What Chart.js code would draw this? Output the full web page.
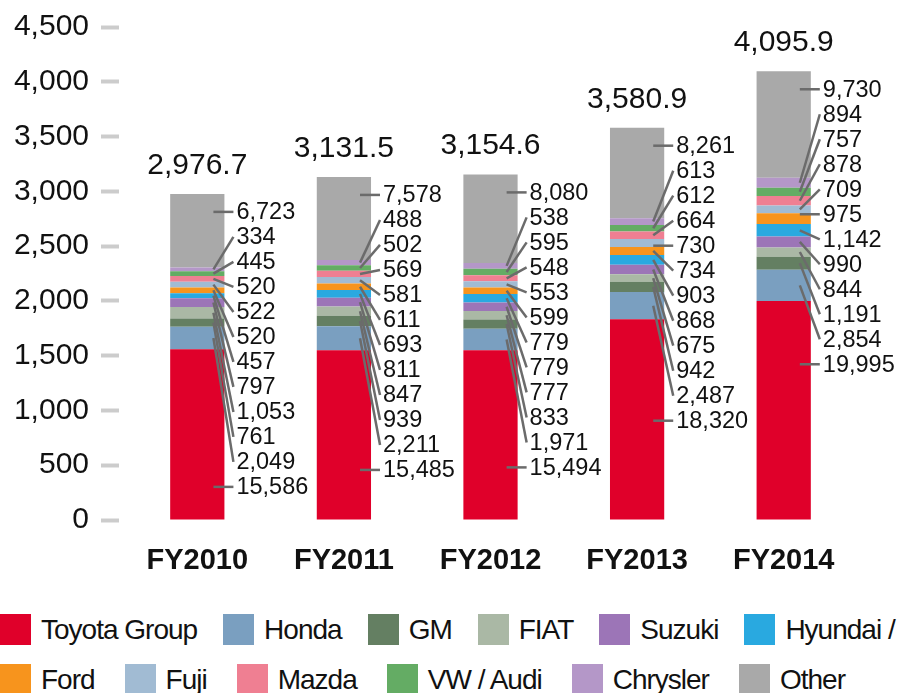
<!DOCTYPE html>
<html lang="en">
<head>
  <meta charset="UTF-8">
  <title>Stacked bars FY2010-FY2014</title>
  <script src="https://cdn.jsdelivr.net/npm/chart.js"></script>
  <style>
    body { margin: 0; width: 898px; height: 693px; overflow: hidden; background: #fff; position: relative;
           font-family: "Liberation Sans", Arial, sans-serif; color: #111; }
    #wrap { position: absolute; left: 0; top: 0; width: 898px; height: 600px; }
    .row { position: absolute; left: 0; display: flex; align-items: center; white-space: nowrap; }
    .item { display: flex; align-items: center; font-size: 28px; letter-spacing: -1px; line-height: 31px; }
    .box { width: 31px; height: 31px; margin-right: 10px; flex: none; }
  </style>
</head>
<body>
  <div id="wrap"><canvas id="chart" width="898" height="600"></canvas></div>
  <div id="row1" class="row" style="top:614px; gap:26px"></div>
  <div id="row2" class="row" style="top:664px; gap:30px"></div>

  <script>
    // categories
    const years = ['FY2010', 'FY2011', 'FY2012', 'FY2013', 'FY2014'];

    // values per maker (bottom of stack first)
    const toyota   = [15586, 15485, 15494, 18320, 19995];
    const honda    = [2049, 2211, 1971, 2487, 2854];
    const gm       = [761, 939, 833, 942, 1191];
    const fiat     = [1053, 847, 777, 675, 844];
    const suzuki   = [797, 811, 779, 868, 990];
    const hyundai  = [457, 693, 779, 903, 1142];
    const ford     = [520, 611, 599, 734, 975];
    const fuji     = [522, 581, 553, 730, 709];
    const mazda    = [520, 569, 548, 664, 878];
    const vwAudi   = [445, 502, 595, 612, 757];
    const chrysler = [334, 488, 538, 613, 894];
    const other    = [6723, 7578, 8080, 8261, 9730];

    const makers = ['Toyota Group', 'Honda', 'GM', 'FIAT', 'Suzuki', 'Hyundai /',
                    'Ford', 'Fuji', 'Mazda', 'VW / Audi', 'Chrysler', 'Other'];
    const series = [toyota, honda, gm, fiat, suzuki, hyundai, ford, fuji, mazda, vwAudi, chrysler, other];
    const colors = ['#e0002a', '#7a9fc0', '#647f62', '#aab8a5', '#9c75b7', '#29a9e0',
                    '#f7941d', '#a1bbd3', '#ef7f92', '#64ac64', '#b497c8', '#a9a9a9'];

    // axis ticks
    const yMax = 4500;
    const yStep = 500;

    // bar height is the label value divided by 10
    const unit = 10;
    const totals = years.map((_, i) => series.reduce((s, arr) => s + arr[i], 0) / unit);

    const fmt = v => v.toLocaleString('en-US');
    const fmtTotal = v => v.toLocaleString('en-US', { minimumFractionDigits: 1, maximumFractionDigits: 1 });

    const FONT = '"Liberation Sans", Arial, sans-serif';

    // value labels with leader lines + totals on top
    const segLabels = {
      id: 'segLabels',
      afterDatasetsDraw(chart) {
        const ctx = chart.ctx;
        const n = chart.data.datasets.length;
        ctx.save();
        years.forEach((year, i) => {
          const bars = chart.data.datasets.map((ds, d) => chart.getDatasetMeta(d).data[i]);
          const top = bars[n - 1].y;
          const cx = bars[0].x;
          const right = cx + bars[0].width / 2;

          ctx.fillStyle = '#111';
          ctx.font = '30px ' + FONT;
          ctx.textAlign = 'center';
          ctx.textBaseline = 'alphabetic';
          ctx.fillText(fmtTotal(totals[i]), cx, top - 20);

          ctx.font = '23.5px ' + FONT;
          ctx.textAlign = 'left';
          ctx.textBaseline = 'middle';
          for (let d = n - 1; d >= 0; d--) {
            const k = n - 1 - d;
            const bar = bars[d];
            const ly = top + 18 + 25 * k;
            const sy = (ly >= bar.y && ly <= bar.base) ? ly : (bar.y + bar.base) / 2;
            ctx.strokeStyle = '#6b6b6b';
            ctx.lineWidth = 2.5;
            ctx.beginPath();
            ctx.moveTo(right - 11, sy);
            ctx.lineTo(right + 9, ly);
            ctx.stroke();
            ctx.fillText(fmt(series[d][i]), right + 12, ly + 1);
          }
        });
        ctx.restore();
      }
    };

    const ctx = document.getElementById('chart').getContext('2d');
    new Chart(ctx, {
      type: 'bar',
      data: {
        labels: years,
        datasets: series.map((arr, d) => ({
          label: makers[d],
          data: arr.map(v => v / unit),
          backgroundColor: colors[d],
          borderWidth: 0,
          categoryPercentage: 1,
          barPercentage: 0.37
        }))
      },
      options: {
        responsive: false,
        animation: false,
        layout: { padding: { top: 27, right: 41, left: 0, bottom: 0 } },
        plugins: {
          legend: { display: false },
          tooltip: { enabled: false }
        },
        scales: {
          x: {
            stacked: true,
            grid: { display: false },
            border: { display: false },
            ticks: {
              color: '#111',
              padding: 16,
              font: { family: FONT, size: 29, weight: 'bold' }
            },
            afterFit(scale) { scale.height = 80; }
          },
          y: {
            stacked: true,
            min: 0,
            max: yMax,
            border: { display: false },
            grid: {
              drawOnChartArea: false,
              drawTicks: true,
              tickLength: 23,
              tickWidth: 4,
              tickColor: '#cccccc',
              tickBorderDash: [18, 20]
            },
            ticks: {
              stepSize: yStep,
              color: '#111',
              padding: 12,
              font: { family: FONT, size: 30, lineHeight: 1 },
              callback: v => fmt(v)
            },
            afterFit(scale) { scale.width = 124; }
          }
        }
      },
      plugins: [segLabels]
    });

    // legend in two rows
    makers.forEach((name, d) => {
      const item = document.createElement('div');
      item.className = 'item';
      const box = document.createElement('span');
      box.className = 'box';
      box.style.background = colors[d];
      const txt = document.createElement('span');
      txt.textContent = name;
      item.appendChild(box);
      item.appendChild(txt);
      document.getElementById(d < 6 ? 'row1' : 'row2').appendChild(item);
    });
  </script>
</body>
</html>
